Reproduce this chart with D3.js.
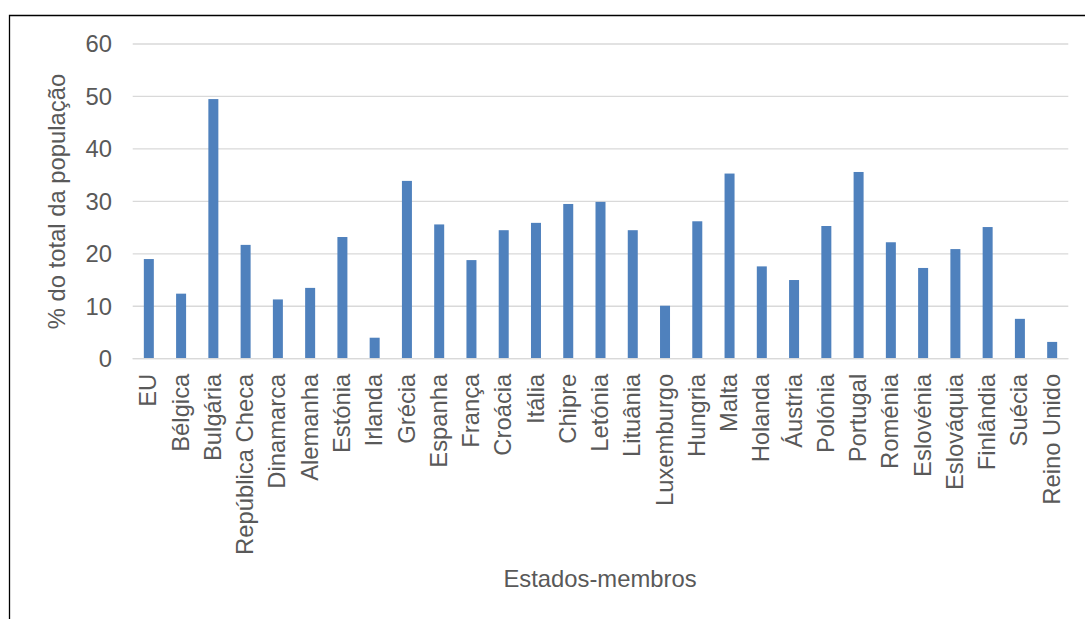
<!DOCTYPE html>
<html>
<head>
<meta charset="utf-8">
<script src="https://cdn.jsdelivr.net/npm/d3@7"></script>
<style>
  html, body { margin: 0; padding: 0; background: #fff; }
  svg { display: block; }
  text { font-family: "Liberation Sans", Arial, sans-serif; fill: #595959; }
</style>
</head>
<body>
<svg id="chart" width="1085" height="619"></svg>
<script>
// Member states and share of total population (%)
const states = ["EU", "Bélgica", "Bulgária", "República Checa", "Dinamarca", "Alemanha",
  "Estónia", "Irlanda", "Grécia", "Espanha", "França", "Croácia", "Itália", "Chipre",
  "Letónia", "Lituânia", "Luxemburgo", "Hungria", "Malta", "Holanda", "Áustria",
  "Polónia", "Portugal", "Roménia", "Eslovénia", "Eslováquia", "Finlândia", "Suécia",
  "Reino Unido"];
const shares = [19.0, 12.4, 49.5, 21.7, 11.3, 13.5, 23.2, 4.0, 33.9, 25.6, 18.8, 24.5,
  25.9, 29.5, 29.9, 24.5, 10.1, 26.2, 35.3, 17.6, 15.0, 25.3, 35.6, 22.2, 17.3, 20.9,
  25.1, 7.6, 3.2];
const yTicks = [0, 10, 20, 30, 40, 50, 60];
const yTitle = "% do total da população";
const xTitle = "Estados-membros";

const svg = d3.select("#chart");
const plot = { left: 132.7, right: 1068.3, top: 44, bottom: 358.7 };
const fontSize = 23.8;

// outer frame (left and top edges)
svg.append("path")
  .attr("d", `M9.5,619 V15.5 H1085`)
  .attr("fill", "none")
  .attr("stroke", "#000")
  .attr("stroke-width", 1.3);

const x = d3.scaleBand()
  .domain(states)
  .range([plot.left, plot.right])
  .paddingInner(0.69)
  .paddingOuter(0.345);

const y = d3.scaleLinear()
  .domain([0, 60])
  .range([plot.bottom, plot.top]);

// horizontal gridlines
svg.append("g")
  .selectAll("line")
  .data(yTicks)
  .join("line")
  .attr("x1", plot.left)
  .attr("x2", plot.right)
  .attr("y1", d => y(d))
  .attr("y2", d => y(d))
  .attr("stroke", "#d9d9d9")
  .attr("stroke-width", 1.3);

// y tick labels
svg.append("g")
  .selectAll("text")
  .data(yTicks)
  .join("text")
  .attr("x", 112)
  .attr("y", d => y(d))
  .attr("dy", "0.35em")
  .attr("text-anchor", "end")
  .style("font-size", fontSize + "px")
  .text(d => d);

// bars
svg.append("g")
  .selectAll("rect")
  .data(shares)
  .join("rect")
  .attr("x", (d, i) => x(states[i]))
  .attr("width", x.bandwidth())
  .attr("y", d => y(d))
  .attr("height", d => y(0) - y(d))
  .attr("fill", "#4f81bd");

// baseline
svg.append("line")
  .attr("x1", plot.left).attr("x2", plot.right)
  .attr("y1", y(0)).attr("y2", y(0))
  .attr("stroke", "#d9d9d9")
  .attr("stroke-width", 1.3);

// rotated category labels
svg.append("g")
  .selectAll("text")
  .data(states)
  .join("text")
  .attr("transform", d => `translate(${x(d) + x.bandwidth() / 2 - 1},${plot.bottom + 15}) rotate(-90)`)
  .attr("dy", "0.36em")
  .attr("text-anchor", "end")
  .style("font-size", fontSize + "px")
  .text(d => d);

// axis titles
svg.append("text")
  .attr("transform", `translate(65,201.5) rotate(-90)`)
  .attr("text-anchor", "middle")
  .style("font-size", fontSize + "px")
  .text(yTitle);

svg.append("text")
  .attr("x", 600)
  .attr("y", 586.5)
  .attr("text-anchor", "middle")
  .style("font-size", fontSize + "px")
  .text(xTitle);
</script>
</body>
</html>
